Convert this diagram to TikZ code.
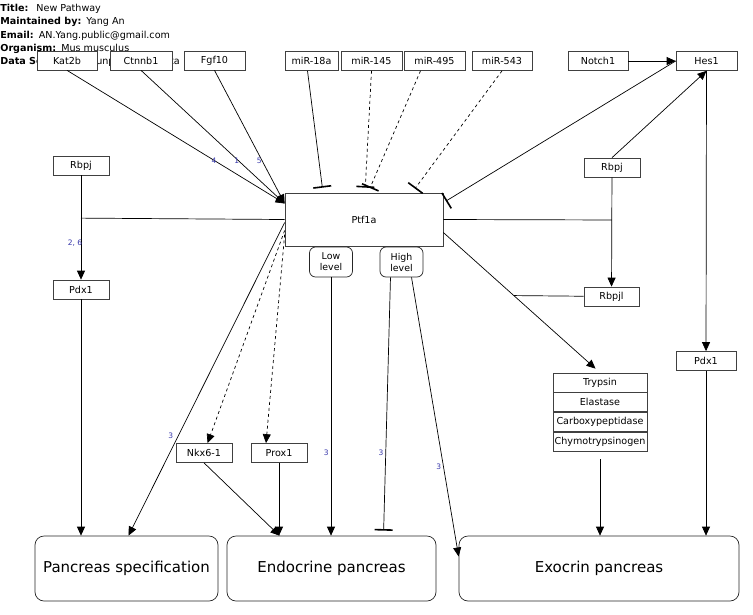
\documentclass[tikz,border=0pt]{standalone}
\usepackage{fontspec}
\setmainfont{DejaVu Sans}
\usetikzlibrary{arrows.meta,positioning}
\definecolor{numblue}{RGB}{55,55,170}

\begin{document}
\begin{tikzpicture}[x=1pt, y=-1pt, line width=0.7pt,
  every node/.style={font=\fontsize{9.6}{11}\selectfont},
  gene/.style={draw=black!75, fill=white, minimum width=56pt, minimum height=19pt, inner sep=1pt},
  lvl/.style={draw=black!85, fill=white, rounded corners=6pt, align=center, minimum width=43pt, minimum height=30pt, inner sep=1pt, font=\fontsize{9.4}{11}\selectfont},
  pheno/.style={draw=black!85, rounded corners=9pt, minimum height=65pt, font=\fontsize{15}{17}\selectfont},
  num/.style={text=numblue, font=\fontsize{7.5}{8}\selectfont, inner sep=1pt},
  hdr/.style={anchor=west, inner sep=0pt, font=\fontsize{9.6}{11}\selectfont},
  act/.style={-{Triangle[length=9pt,width=8pt]}},
  inh/.style={-{Bar[width=18pt,line width=1.6pt]}, shorten >=5pt}]
\useasboundingbox (0,0) rectangle (753,614);

\node[hdr] (title) at (0,9) {\textbf{Title:}\hspace{8pt}New Pathway};
\node[hdr] (maint) at (0,22) {\textbf{Maintained by:}\hspace{5pt}Yang An};
\node[hdr] (mail) at (0,36) {\textbf{Email:}\hspace{5pt}AN.Yang.public@gmail.com};
\node[hdr] (org) at (0,49) {\textbf{Organism:}\hspace{5pt}Mus musculus};
\node[hdr] (src) at (0,62) {\textbf{Data Source:}\hspace{26pt}unpublished data};

\node[gene, minimum width=60pt] (kat) at (67,60.5) {Kat2b};
\node[gene, minimum width=62pt] (ctn) at (141,60.5) {Ctnnb1};
\node[gene, minimum width=61pt] (fgf) at (214.5,60.5) {Fgf10};
\node[gene, minimum width=53pt] (mir18) at (311.5,61) {miR-18a};
\node[gene, minimum width=61pt] (mir145) at (371.5,61) {miR-145};
\node[gene, minimum width=61pt] (mir495) at (434.5,61) {miR-495};
\node[gene, minimum width=60pt] (mir543) at (502,61) {miR-543};
\node[gene, minimum width=60pt] (notch) at (598,61) {Notch1};
\node[gene, minimum width=61pt] (hes) at (706.5,61) {Hes1};

\node[gene] (rbpjL) at (81,165.5) {Rbpj};
\node[gene] (pdxL) at (81,289.5) {Pdx1};
\node[gene] (rbpjR) at (612,167.5) {Rbpj};
\node[gene, minimum width=55pt] (rbpjl) at (611.5,296.5) {Rbpjl};
\node[gene, minimum width=60pt] (pdxR) at (706,361) {Pdx1};

\node[gene, minimum width=158pt, minimum height=53pt] (ptf) at (364,219.5) {Ptf1a};
\node[lvl] (low) at (331,262) {Low\\level};
\node[lvl] (high) at (401.5,262) {High\\level};

\node[gene, minimum width=94pt] (tryp) at (600,382.5) {Trypsin};
\node[gene, minimum width=94pt, below=0pt of tryp] (elas) {Elastase};
\node[gene, minimum width=94pt, below=0pt of elas] (carb) {Carboxypeptidase};
\node[gene, minimum width=94pt, below=0pt of carb] (chym) {Chymotrypsinogen};

\node[gene] (nkx) at (204,453) {Nkx6-1};
\node[gene] (prox) at (279,453) {Prox1};

\node[pheno, minimum width=183pt] (spec) at (126.5,568.5) {Pancreas specification};
\node[pheno, minimum width=209pt] (endo) at (331.5,568.5) {Endocrine pancreas};
\node[pheno, minimum width=280pt] (exo) at (599,568.5) {Exocrin pancreas};

\draw[act] (kat.south) -- node[num, pos=0.68, xshift=-1pt] {4} ([yshift=16pt]ptf.west);
\draw[act] (ctn.south) -- node[num, pos=0.68, xshift=-2pt] {1} ([yshift=16pt]ptf.west);
\draw[act] (fgf.south) -- node[num, pos=0.68, xshift=-3pt] {5} ([yshift=16pt]ptf.west);
\draw[inh] ([xshift=-4pt]mir18.south) -- ([xshift=-41pt]ptf.north);
\draw[inh, dashed] (mir145.south) -- ([xshift=1pt]ptf.north);
\draw[inh, dashed] ([xshift=-14pt]mir495.south) -- ([xshift=4pt]ptf.north);
\draw[inh, dashed] (mir543.south) -- ([xshift=48pt]ptf.north);
\draw[inh, shorten >=3pt] (hes.west) -- ([yshift=-10pt]ptf.north east);

\draw[act] (notch) -- (hes);
\draw[act] (rbpjR.north) -- (hes.south);
\draw[act] (hes) -- (pdxR);
\draw[act] (pdxR) -- (pdxR |- exo.north);
\draw[act] (rbpjR) -- coordinate[pos=0.39] (jr) (rbpjl);
\draw (ptf.east) -- (jr);
\draw[act, shorten >=6pt] ([yshift=-13pt]ptf.east) -- coordinate[pos=0.45] (jt) (tryp.north);
\draw (rbpjl) -- (jt);

\draw[act] (rbpjL) -- node[num, pos=0.65, xshift=-6pt] {2, 6} coordinate[pos=0.41] (jl) (pdxL);
\draw (ptf.west) -- (jl);
\draw[act] (pdxL) -- (pdxL |- spec.north);
\draw[act] ([yshift=-3pt]ptf.west) -- node[num, pos=0.68, left=4pt] {3} ([xshift=2pt]spec.north);
\draw[act, dashed] ([yshift=-11pt]ptf.west) -- (nkx);
\draw[act, dashed] ([yshift=-15pt]ptf.west) -- ([xshift=-13pt]prox.north);
\draw[act] (nkx.south) -- ([xshift=-52pt]endo.north);
\draw[act] (prox.south) -- (prox.south |- endo.north);

\draw[act] (low) -- node[num, pos=0.68, left=1pt] {3} (low |- endo.north);
\draw[inh] ([xshift=-11pt]high.south) -- node[num, pos=0.68, left=1pt] {3} ([xshift=52pt]endo.north);
\draw[act] ([xshift=10pt]high.south) -- node[num, pos=0.68, left=1pt] {3} ([yshift=12pt]exo.west);
\draw[act, shorten <=8pt] (chym.south) -- (chym.south |- exo.north);
\end{tikzpicture}
\end{document}
